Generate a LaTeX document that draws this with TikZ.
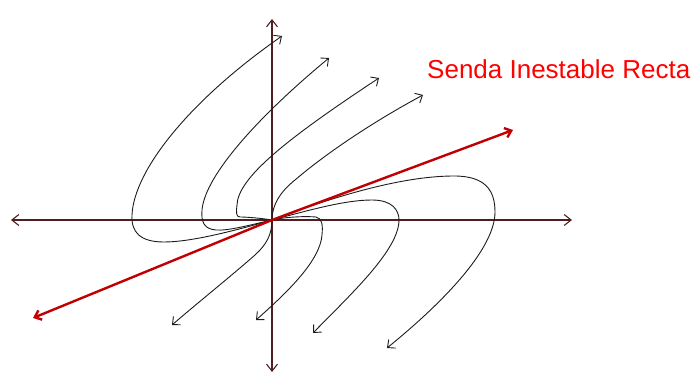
\documentclass[tikz,border=0pt]{standalone}
\usepackage{fontspec}
\setmainfont{Liberation Sans}
\usetikzlibrary{arrows.meta}
\definecolor{axiscol}{RGB}{80,30,30}
\definecolor{redline}{RGB}{192,0,0}
\definecolor{curvecol}{RGB}{28,28,28}
\begin{document}
\begin{tikzpicture}[x=1pt,y=-1pt,
  axis/.style={draw=axiscol, line width=1.1pt, {Straight Barb[length=7pt,width=11pt]}-{Straight Barb[length=7pt,width=11pt]}},
  traj/.style={draw=curvecol, line width=0.9pt, -{Straight Barb[length=6pt,width=11pt]}},
  unstable/.style={draw=redline, line width=2.4pt, {Straight Barb[length=6pt,width=10pt]}-{Straight Barb[length=6pt,width=10pt]}},
  lbl/.style={text=red, font=\fontsize{26}{30}\selectfont, inner sep=0pt, anchor=base west}]
\useasboundingbox (0,0) rectangle (698,374);
\coordinate (O) at (272,220);
\coordinate (L) at (11,220);
\coordinate (R) at (572,220);
\coordinate (T) at (272,19);
\coordinate (B) at (272,372);
\coordinate (RL) at (33,318);
\coordinate (RR) at (513,130);
% axes
\draw[axis] (L) -- (R);
\draw[axis] (B) -- (T);
% trajectories
\draw[traj] (O) .. controls (230,232) and (190,242) .. (164,242)
  .. controls (140,242) and (131,232) .. (132,215)
  .. controls (134,170) and (190,100) .. (282,36);
\draw[traj] (O) .. controls (250,225) and (228,231) .. (216,230)
  .. controls (204,229) and (201,222) .. (202,210)
  .. controls (205,175) and (260,115) .. (329,58);
\draw[traj] (O) .. controls (260,218) and (246,217) .. (240,217)
  .. controls (236,217) and (236,212) .. (237,205)
  .. controls (238,178) and (285,140) .. (379,78);
\draw[traj] (O) .. controls (272,205) and (280,192) .. (295,180)
  .. controls (330,150) and (380,118) .. (423,95);
\draw[traj] (O) .. controls (330,198) and (400,176) .. (454,176)
  .. controls (485,176) and (495,190) .. (495,212)
  .. controls (495,250) and (440,305) .. (387,348);
\draw[traj] (O) .. controls (310,210) and (345,200) .. (372,200)
  .. controls (392,200) and (399,210) .. (399,220)
  .. controls (399,250) and (350,295) .. (313,333);
\draw[traj] (O) .. controls (285,217) and (305,216) .. (316,217)
  .. controls (322,218) and (323,225) .. (322,235)
  .. controls (320,260) and (290,290) .. (256,320);
\draw[traj] (O) .. controls (272,235) and (266,245) .. (255,255)
  .. controls (230,277) and (195,305) .. (172,325);
% unstable straight path
\draw[unstable] (RL) -- (O) -- (RR);
\node[lbl] (title) at (427,79) {Senda Inestable Recta};
\end{tikzpicture}
\end{document}
